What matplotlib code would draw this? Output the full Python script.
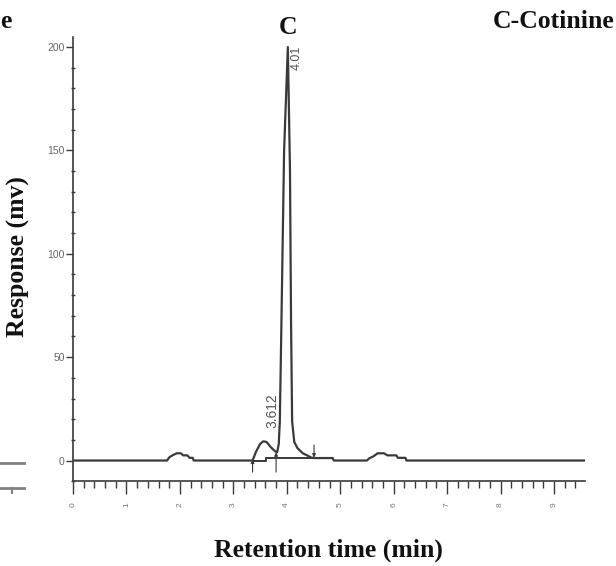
import matplotlib.pyplot as plt
from matplotlib.lines import Line2D
from matplotlib.ticker import MultipleLocator

# chromatogram trace (retention time in min, response in mV)
rt = [0.00, 1.76, 1.80, 1.86, 1.94, 2.02, 2.06, 2.14, 2.18, 2.24, 2.26,
      3.36, 3.42, 3.50, 3.56, 3.62, 3.70, 3.78, 3.82, 3.85, 3.87, 3.90,
      3.95, 4.02, 4.06, 4.08, 4.10, 4.14, 4.20, 4.30, 4.38, 4.45, 4.52,
      4.86, 4.88, 5.50, 5.54, 5.62, 5.70, 5.82, 5.88, 6.05, 6.08, 6.22,
      6.24, 9.58]
resp = [0, 0, 1.5, 2.5, 3.5, 3.5, 2.5, 2.5, 1.3, 1.3, 0,
        0, 4, 8, 9.3, 9, 6.5, 4.5, 4, 8, 19, 67,
        150, 200, 140, 67, 19, 9, 6, 3.5, 2.5, 1.5, 1.2,
        1.2, 0, 0, 1, 2, 3.5, 3.5, 2.5, 2.5, 1.3, 1.3,
        0, 0]

# integration baseline under the peak cluster
base_rt = [3.36, 3.62, 3.62, 4.52]
base_resp = [0, 0, 1.2, 1.2]

# peak start / end markers: (time, tail, head)
markers = [(3.36, -5.6, 0.5), (3.80, -5.6, 4.0), (4.51, 7.5, 1.4)]

peak_labels = [("3.612", 3.74, 24, 10), ("4.01", 4.18, 195, 9)]

fig = plt.figure(figsize=(6.16, 5.66), dpi=100)
ax = fig.add_axes([73 / 616, 1 - 481.2 / 566, 512 / 616, 444.5 / 566])

grey = '#3a3a3a'
ax.plot(rt, resp, color=grey, lw=1.6)
ax.plot(base_rt, base_resp, color=grey, lw=1.4)

for t, y0, y1 in markers:
    ax.annotate('', xy=(t, y1), xytext=(t, y0),
                arrowprops=dict(arrowstyle='-|>', color=grey, lw=0.8,
                                mutation_scale=5, shrinkA=0, shrinkB=0))

for txt, x, y, fs in peak_labels:
    ax.text(x, y, txt, rotation=90, ha='center', va='center',
            fontsize=fs, color='#555555', family='Liberation Sans')

ax.set_xlim(0, 9.58)
ax.set_ylim(-10, 205)
ax.spines['top'].set_visible(False)
ax.spines['right'].set_visible(False)
for s in ('left', 'bottom'):
    ax.spines[s].set_color(grey)
    ax.spines[s].set_linewidth(1.2)

ax.set_yticks([0, 50, 100, 150, 200])
ax.yaxis.set_minor_locator(MultipleLocator(10))
ax.set_xticks(range(10))
ax.xaxis.set_minor_locator(MultipleLocator(0.2))

ax.tick_params(axis='y', which='major', direction='out', length=5,
               width=1, color=grey, labelsize=7.5, labelcolor='#666666', pad=1)
ax.tick_params(axis='y', which='minor', direction='inout', length=3,
               width=1, color=grey)
ax.tick_params(axis='x', which='major', direction='out', length=9,
               width=1, color=grey, labelsize=6, labelcolor='#777777',
               labelrotation=90, pad=6)
ax.tick_params(axis='x', which='minor', direction='out', length=5,
               width=1, color=grey)
for lab in ax.get_xticklabels() + ax.get_yticklabels():
    lab.set_family('Liberation Sans')

serif = dict(family='Liberation Serif', fontweight='bold', color='#111111')
fig.text(18 / 616, 1 - 257 / 566, 'Response (mv)', rotation=90,
         ha='center', va='center', fontsize=18.5, **serif)
fig.text(328 / 616, 1 - 550 / 566, 'Retention time (min)',
         ha='center', va='center', fontsize=18.5, **serif)
fig.text(288 / 616, 1 - 28 / 566, 'C', ha='center', va='center',
         fontsize=18.5, **serif)
fig.text(614 / 616, 1 - 21 / 566, 'C-Cotinine', ha='right', va='center',
         fontsize=18.5, **serif)
fig.text(0, 1 - 22 / 566, 'e', ha='left', va='center', fontsize=18.5, **serif)

# bits of the neighbouring panel at the left edge
for yp in (463, 488):
    fig.add_artist(Line2D([0, 24 / 616], [1 - yp / 566] * 2,
                          color='#808080', lw=2))
fig.add_artist(Line2D([12 / 616] * 2, [1 - 488 / 566, 1 - 493 / 566],
                      color='#808080', lw=1.5))

fig.savefig('out.png', dpi=100)
